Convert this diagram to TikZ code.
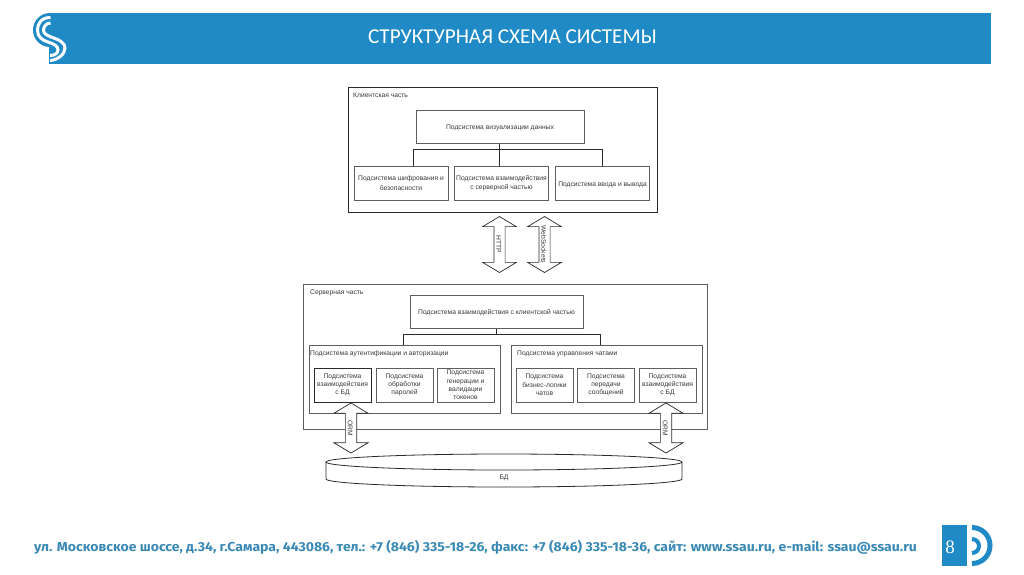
\documentclass[tikz,border=0pt]{standalone}
\usepackage{fontspec}
\setmainfont{Liberation Sans}
\newfontfamily\titlefont{Carlito}
\newfontfamily\footfont{Fira Sans}[UprightFont=* Bold]
\newfontfamily\pagefont{Liberation Serif}
\usepackage{xcolor}
\usetikzlibrary{shapes.arrows}
\definecolor{ssaublue}{HTML}{1F8AC5}
\definecolor{footblue}{HTML}{3A89B5}
\definecolor{inkdark}{HTML}{2A2A2A}
\definecolor{inktext}{HTML}{3A3A3A}
\definecolor{inkgrey}{HTML}{5E5E5E}
\tikzset{
	small/.style={font=\fontsize{6.7}{9.4}\selectfont,text=inktext},
	block/.style={draw=inkgrey,line width=1pt,inner sep=0pt,align=center,small,
		execute at begin node={\rule{0pt}{7.6pt}}},
	innerblock/.style={block,draw=inkgrey,font=\fontsize{6.7}{8.3}\selectfont},
	darkblock/.style={innerblock,draw=inkdark},
	group/.style={draw=inkgrey,line width=1pt,fill=white},
	grouptitle/.style={small,inner sep=0pt,anchor=west},
	wire/.style={draw=inkdark,line width=0.9pt},
	twoway/.style={draw=inkdark,line width=0.7pt,fill=white,double arrow,small,
		inner xsep=0pt,inner ysep=0pt,text height=8.5pt,text depth=2pt,
		double arrow head extend=11.25pt,double arrow tip angle=118,rotate=-90}
}
\begin{document}
\begin{tikzpicture}[x=1pt,y=-1pt]
	\useasboundingbox (0,0) rectangle (1024,574);
	% banner
	\fill[ssaublue] (49,13) rectangle (991,64);
	\fill[ssaublue] (50,13) .. controls (40.6,13) and (33,20.6) .. (33,30) .. controls (33,39.4) and (40.6,47) .. (50,47) -- cycle;
	\draw[white,line width=3pt] (50.5,17.5) .. controls (41,17.5) and (37.5,24) .. (37.5,30) .. controls (37.5,37) and (42,40) .. (48,42) .. controls (54,44) and (58,46) .. (58,50) .. controls (58,53) and (55,55.5) .. (50,55.5);
	\draw[white,line width=3pt] (50.5,23) .. controls (46,23) and (43.5,27) .. (43.5,30) .. controls (43.5,33) and (46,35) .. (51,37) .. controls (60,40) and (65,43) .. (65,48) .. controls (65,54) and (58,60) .. (50,60.5);
	\node[text=white,font=\titlefont\fontsize{21.2}{24}\selectfont] (title) at (512.5,36.5) {СТРУКТУРНАЯ СХЕМА СИСТЕМЫ};
	% client part
	\node[group,draw=inkdark,minimum width=309pt,minimum height=124.5pt] (client) at (502.5,149.75) {};
	\node[grouptitle] (clientT) at (353,95) {Клиентская часть};
	\node[block,minimum width=168pt,minimum height=33pt] (vis) at (500,126.5) {Подсистема визуализации данных};
	\node[block,minimum width=94pt,minimum height=34pt] (cipher) at (401,183) {Подсистема шифрования и\\безопасности};
	\node[block,minimum width=94pt,minimum height=34pt] (link) at (501.5,183) {Подсистема взаимодействия\\с серверной частью};
	\node[block,minimum width=94pt,minimum height=34pt] (io) at (602.5,183) {Подсистема ввода и вывода};
	\coordinate (busC) at (499.5,149.5);
	\coordinate (cipherTop) at (413,166);
	\path[wire]
	(vis.south -| busC) edge (busC)
	(busC) edge (link.north -| busC)
	(cipherTop) edge[to path={|- (\tikztotarget)}] (busC)
	(io.north) edge[to path={|- (\tikztotarget)}] (busC);
	% links between the parts
	\node[twoway,minimum height=56pt,minimum width=33pt] (http) at (499.5,244.5) {HTTP};
	\node[twoway,minimum height=56pt,minimum width=33pt] (ws) at (544.5,244.5) {WebSockets};
	% server part
	\node[group,minimum width=404pt,minimum height=145pt] (server) at (505,356.5) {};
	\node[grouptitle] (serverT) at (310,293) {Серверная часть};
	\node[block,minimum width=173pt,minimum height=33pt] (front) at (496.5,311.5) {Подсистема взаимодействия с клиентской частью};
	\node[group,minimum width=191pt,minimum height=68pt] (auth) at (404.5,379) {};
	\node[group,minimum width=191pt,minimum height=68pt] (chat) at (606.5,379) {};
	\node[grouptitle] (authT) at (310,354) {Подсистема аутентификации и авторизации};
	\node[grouptitle] (chatT) at (517,354) {Подсистема управления чатами};
	\node[darkblock,minimum width=57pt,minimum height=34pt] (authDb) at (342.5,385) {Подсистема\\взаимодействия\\с БД};
	\node[innerblock,minimum width=57pt,minimum height=34pt] (pass) at (404.5,385) {Подсистема\\обработки\\паролей};
	\node[innerblock,minimum width=57pt,minimum height=34pt] (token) at (465.5,385) {Подсистема\\генерации и\\валидации\\токенов};
	\node[innerblock,minimum width=57pt,minimum height=34pt] (logic) at (544.5,385) {Подсистема\\бизнес-логики\\чатов};
	\node[innerblock,minimum width=57pt,minimum height=34pt] (send) at (606,385) {Подсистема\\передачи\\сообщений};
	\node[innerblock,minimum width=57pt,minimum height=34pt] (chatDb) at (667.5,385) {Подсистема\\взаимодействия\\с БД};
	\coordinate (busS) at (496.5,334);
	\coordinate (authTop) at (403,345);
	\coordinate (chatTop) at (600.5,345);
	\path[wire]
	(front.south -| busS) edge (busS)
	(authTop) edge[to path={|- (\tikztotarget)}] (busS)
	(chatTop) edge[to path={|- (\tikztotarget)}] (busS);
	% database
	\draw[draw=inkdark,line width=0.8pt,fill=white] (326,462) .. controls (326,457.6) and (405.7,454) .. (504,454) .. controls (602.3,454) and (682,457.6) .. (682,462) -- (682,479) .. controls (682,483.4) and (602.3,487) .. (504,487) .. controls (405.7,487) and (326,483.4) .. (326,479) -- cycle;
	\draw[draw=inkdark,line width=0.8pt] (326,462) .. controls (326,466.4) and (405.7,470) .. (504,470) .. controls (602.3,470) and (682,466.4) .. (682,462);
	\node[small] (db) at (504,478) {БД};
	% orm arrows
	\node[twoway,minimum height=50pt,minimum width=34pt] (ormA) at (351,428) {ORM};
	\node[twoway,minimum height=50pt,minimum width=34pt] (ormB) at (666,428) {ORM};
	% footer
	\node[text=footblue,font=\footfont\fontsize{13}{15}\selectfont,inner sep=0pt] (foot) at (475.5,547) {\scalebox{1.08}[1]{ул. Московское шоссе, д.34, г.Самара, 443086, тел.: +7 (846) 335-18-26, факс: +7 (846) 335-18-36, сайт: www.ssau.ru, e-mail: ssau@ssau.ru}};
	\node[fill=ssaublue,minimum width=25pt,minimum height=41pt,inner sep=0pt] (page) at (954.5,545.5) {};
	\node[text=white,font=\pagefont\fontsize{19}{22}\selectfont,inner sep=0pt] (pageNo) at (950,547) {8};
	\draw[ssaublue,line width=5pt] (972,527.5) .. controls (982,527.5) and (990,535.5) .. (990,545.5) .. controls (990,555.5) and (982,563.5) .. (972,563.5);
	\draw[ssaublue,line width=4pt] (972,539) .. controls (975.9,539) and (979,542.1) .. (979,546) .. controls (979,549.9) and (975.9,553) .. (972,553);
\end{tikzpicture}
\end{document}
